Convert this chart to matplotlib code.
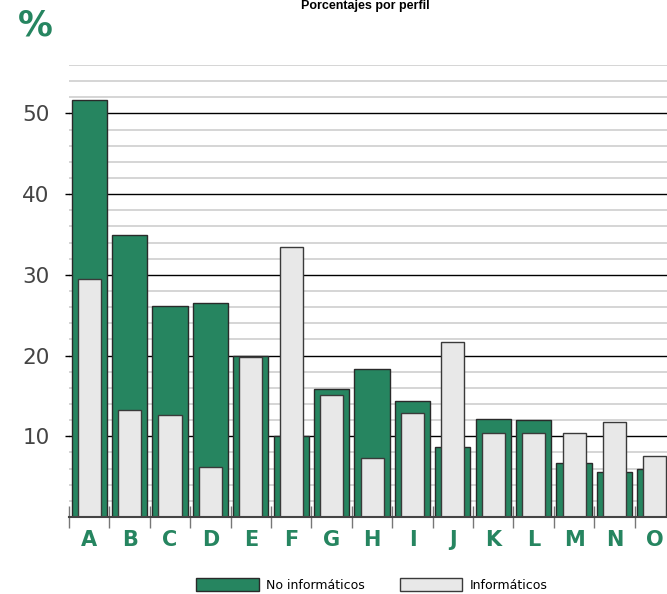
import numpy as np
import matplotlib
matplotlib.use("Agg")
import matplotlib.pyplot as plt
from matplotlib.patches import Patch

perfiles = ["A", "B", "C", "D", "E", "F", "G", "H", "I", "J", "K", "L", "M", "N", "O"]
no_informaticos = [51.7, 34.9, 26.2, 26.5, 20.0, 10.0, 15.8, 18.3, 14.4, 8.7, 12.2, 12.0, 6.7, 5.6, 6.0]
informaticos = [29.5, 13.3, 12.6, 6.2, 19.8, 33.5, 15.1, 7.3, 12.85, 21.7, 10.45, 10.45, 10.45, 11.8, 7.6]

VERDE = "#268560"
GRIS = "#e8e8e8"

fig = plt.figure(figsize=(6.67, 5.94), dpi=100)
ax = fig.add_axes([69 / 667, 1 - 517 / 594, 1 - 69 / 667, (517 - 65) / 594])

x = np.arange(len(perfiles))

# rejilla: secundaria cada 2, principal cada 10
for v in range(2, 57, 2):
    if v % 10 == 0 and v <= 50:
        ax.axhline(v, color="black", lw=1.0, zorder=1)
    else:
        ax.axhline(v, color="#d2d2d2", lw=1.3, zorder=0.5)

ax.bar(x, no_informaticos, width=0.87, color=VERDE, edgecolor="#2a2a2a", lw=1.0, zorder=2)
ax.bar(x, informaticos, width=0.57, color=GRIS, edgecolor="#3a3a3a", lw=1.0, zorder=3)

ax.set_xlim(-0.5, 14.3)
ax.set_ylim(0, 56)

ax.set_yticks([10, 20, 30, 40, 50])
ax.tick_params(axis="y", length=3, width=1, color="black", labelsize=15.5,
               labelcolor="#444444", pad=11)

# marcas en los límites de cada perfil, etiquetas en el centro
ax.set_xticks(x - 0.5)
ax.set_xticklabels([])
ax.tick_params(axis="x", which="major", direction="inout", length=16,
               width=1, color="#777777")
ax.set_xticks(x, minor=True)
ax.set_xticklabels(perfiles, minor=True, fontsize=15, fontweight="bold", color=VERDE)
ax.tick_params(axis="x", which="minor", length=0, pad=9)

for s in ["top", "right", "left"]:
    ax.spines[s].set_visible(False)
ax.spines["bottom"].set_color("#444444")
ax.spines["bottom"].set_linewidth(1.5)
ax.spines["bottom"].set_zorder(4)

fig.text(365 / 667, 1 - 9 / 594, "Porcentajes por perfil", ha="center", va="baseline",
         fontsize=9, fontweight="bold", family="Liberation Sans")
fig.text(35 / 667, 1 - 26 / 594, "%", ha="center", va="center",
         fontsize=25, fontweight="bold", color=VERDE)

handles = [Patch(facecolor=VERDE, edgecolor="#2a2a2a", lw=1.0),
           Patch(facecolor=GRIS, edgecolor="#3a3a3a", lw=1.0)]
fig.legend(handles, ["No informáticos", "Informáticos"], loc="center",
           bbox_to_anchor=(372 / 667, 1 - 585 / 594), ncol=2, frameon=False,
           fontsize=9, handlelength=5.0, handleheight=1.15, columnspacing=2.8,
           handletextpad=0.6)

fig.savefig("out.png", dpi=100)
